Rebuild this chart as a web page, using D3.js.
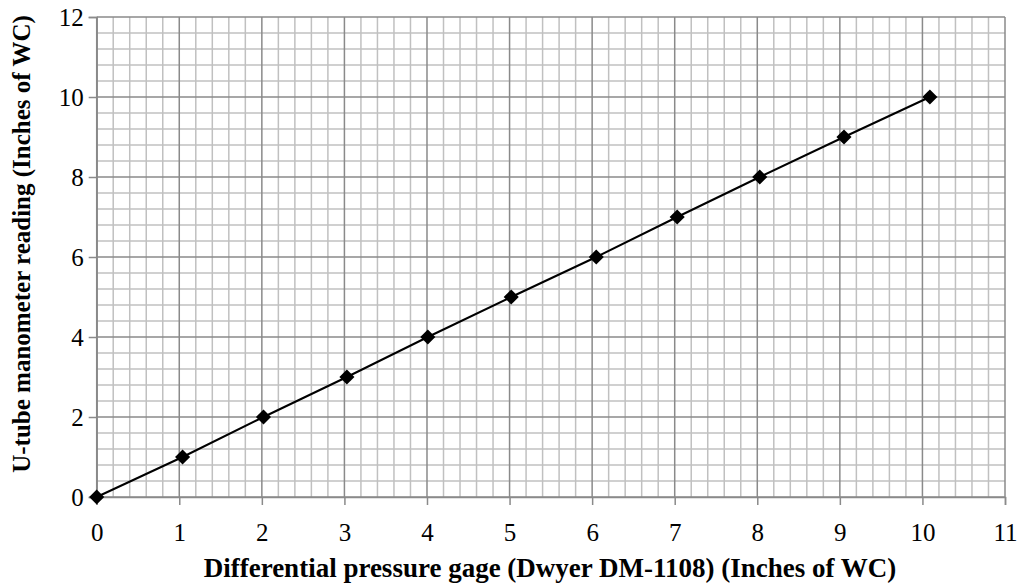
<!DOCTYPE html>
<html><head><meta charset="utf-8">
<script src="https://cdn.jsdelivr.net/npm/d3@7"></script>
<style>body{margin:0;background:#fff}svg{display:block}
svg text{font-family:'Liberation Serif','Times New Roman',serif;}</style>
</head><body>
<svg id="c" width="1023" height="586"></svg>
<script>
const gageReading = [0, 1.04, 2.02, 3.03, 4.01, 5.02, 6.05, 7.03, 8.03, 9.05, 10.09];
const manometerReading = [0, 1, 2, 3, 4, 5, 6, 7, 8, 9, 10];
const xTicks = [0,1,2,3,4,5,6,7,8,9,10,11];
const yTicks = [0,2,4,6,8,10,12];
const xTitle = "Differential pressure gage (Dwyer DM-1108) (Inches of WC)";
const yTitle = "U-tube manometer reading (Inches of WC)";

const svg = d3.select("#c");
const L = 96.7, R = 1005, T = 17, B = 497;
const x = d3.scaleLinear().domain([0, 11]).range([L, R]);
const y = d3.scaleLinear().domain([0, 12]).range([B, T]);
const font = "'Liberation Serif','Times New Roman',serif";

const grid = svg.append("g");
const xMinor = d3.range(0, 11.0001, 0.2).filter(v => Math.abs(v - Math.round(v)) > 1e-6);
const yMinor = d3.range(0, 12.0001, 0.4).filter(v => Math.abs(v/2 - Math.round(v/2)) > 1e-6);
grid.selectAll(".xm").data(xMinor).enter().append("line")
  .attr("x1", d => x(d)).attr("x2", d => x(d)).attr("y1", T).attr("y2", B)
  .attr("stroke", "#c0c0c0").attr("stroke-width", 1.5);
grid.selectAll(".ym").data(yMinor).enter().append("line")
  .attr("x1", L).attr("x2", R).attr("y1", d => y(d)).attr("y2", d => y(d))
  .attr("stroke", "#c0c0c0").attr("stroke-width", 1.5);
grid.selectAll(".xM").data(xTicks).enter().append("line")
  .attr("x1", d => x(d)).attr("x2", d => x(d)).attr("y1", T).attr("y2", B)
  .attr("stroke", "#8a8a8a").attr("stroke-width", 1.5);
grid.selectAll(".yM").data(yTicks).enter().append("line")
  .attr("x1", L).attr("x2", R).attr("y1", d => y(d)).attr("y2", d => y(d))
  .attr("stroke", "#8a8a8a").attr("stroke-width", 1.5);

const xAxis = svg.append("g").attr("transform", `translate(0,${B})`)
  .call(d3.axisBottom(x).tickValues(xTicks).tickSize(8).tickPadding(18).tickFormat(d3.format("d")));
const yAxis = svg.append("g").attr("transform", `translate(${L},0)`)
  .call(d3.axisLeft(y).tickValues(yTicks).tickSize(8).tickPadding(5).tickFormat(d3.format("d")));
[xAxis, yAxis].forEach(a => {
  a.attr("font-family", font).attr("font-size", 25);
  a.select(".domain").attr("stroke", "#8a8a8a").attr("stroke-width", 1.5);
  a.selectAll(".tick line").attr("stroke", "#8a8a8a").attr("stroke-width", 1.5);
  a.selectAll("text").attr("fill", "#000");
});

const pts = gageReading.map((g, i) => [g, manometerReading[i]]);
svg.append("path").datum(pts)
  .attr("d", d3.line().x(d => x(d[0])).y(d => y(d[1])))
  .attr("fill", "none").attr("stroke", "#000").attr("stroke-width", 2);
svg.selectAll(".pt").data(pts).enter().append("path")
  .attr("d", d3.symbol().type(d3.symbolDiamond2).size(145))
  .attr("transform", d => `translate(${x(d[0])},${y(d[1])})`)
  .attr("fill", "#000");

svg.append("text").attr("x", 550).attr("y", 577).attr("text-anchor", "middle")
  .attr("font-family", font).attr("font-size", 27).attr("font-weight", "bold").text(xTitle);
svg.append("text").attr("transform", `translate(30,244) rotate(-90)`).attr("text-anchor", "middle")
  .attr("font-family", font).attr("font-size", 25).attr("font-weight", "bold").text(yTitle);
</script>
</body></html>
